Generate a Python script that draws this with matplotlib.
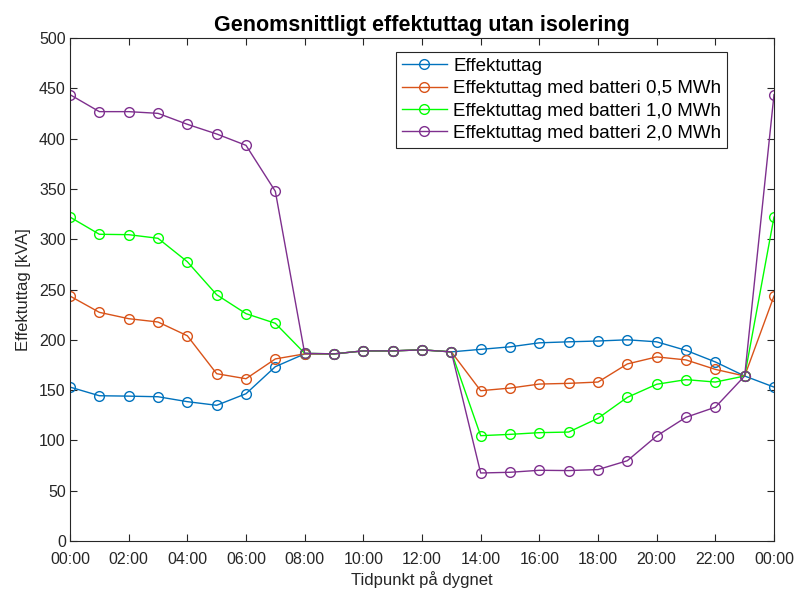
import matplotlib
matplotlib.use('Agg')
import matplotlib.pyplot as plt

plt.rcParams['font.family'] = ['Liberation Sans', 'DejaVu Sans']

# Timme 0..24 (00:00 till 00:00 nästa dygn)
hours = list(range(25))
tick_hours = list(range(0, 25, 2))
tick_labels = ['%02d:00' % (h % 24) for h in tick_hours]

effekt = [153, 144.4, 144, 143.4, 138.5, 134.9, 146.4, 173.3, 186, 186, 189, 189, 190,
          188, 190.5, 193, 197, 198, 198.8, 200, 198, 189.5, 178, 164, 153]
batt_05 = [243.5, 227.3, 221, 217.7, 204, 166.3, 161.3, 181, 186, 186, 189, 189, 190,
           188, 149.4, 152, 156, 156.7, 158, 176, 183, 180, 170.6, 164, 243.5]
batt_10 = [322, 304.9, 304.5, 300.9, 277.6, 244.8, 226, 216.4, 186.6, 186, 189, 189, 190,
           188, 104.7, 106, 107.7, 108.3, 122, 142.8, 155.8, 160.4, 158, 164, 322]
batt_20 = [443.7, 426.8, 426.8, 425.1, 414.2, 404.6, 393.3, 347.6, 186.6, 186, 189, 189, 190,
           188, 67.6, 68.3, 70.3, 70, 71, 79.8, 104.4, 123, 133, 164, 443.7]

series = [
    (effekt, 'Effektuttag', '#0072BD'),
    (batt_05, 'Effektuttag med batteri 0,5 MWh', '#D95319'),
    (batt_10, 'Effektuttag med batteri 1,0 MWh', '#00FF00'),
    (batt_20, 'Effektuttag med batteri 2,0 MWh', '#7E2F8E'),
]

fig = plt.figure(figsize=(7.95, 5.9), dpi=100)
ax = fig.add_axes([70 / 795, 1 - 541 / 590, (774 - 70) / 795, (541 - 38) / 590])

for values, label, color in series:
    ax.plot(hours, values, color=color, lw=1.0, marker='o', ms=7,
            mfc='none', mec=color, mew=1.0, label=label)

ax.set_xlim(0, 24)
ax.set_ylim(0, 500)
ax.set_xticks(tick_hours)
ax.set_xticklabels(tick_labels)
ax.set_yticks(range(0, 501, 50))
ax.tick_params(direction='in', top=True, right=True, labelsize=11.5, length=5,
               colors='#262626')
ax.tick_params(axis='x', pad=8)
ax.tick_params(axis='y', pad=3)
for s in ax.spines.values():
    s.set_color('#262626')
    s.set_linewidth(0.8)

ax.set_xlabel('Tidpunkt på dygnet', fontsize=12, color='#262626', labelpad=3)
ax.set_ylabel('Effektuttag [kVA]', fontsize=12, color='#262626', labelpad=6)
ax.set_title('Genomsnittligt effektuttag utan isolering', fontsize=15.5,
             fontweight='bold', pad=5)

leg = ax.legend(loc='upper right', bbox_to_anchor=(0.933, 0.972), fontsize=13.5,
                fancybox=False, framealpha=1, edgecolor='#262626',
                handlelength=2.4, borderpad=0.3, labelspacing=0.28,
                handletextpad=0.35, borderaxespad=0)
leg.get_frame().set_linewidth(0.8)

fig.savefig('out.png', dpi=100)
